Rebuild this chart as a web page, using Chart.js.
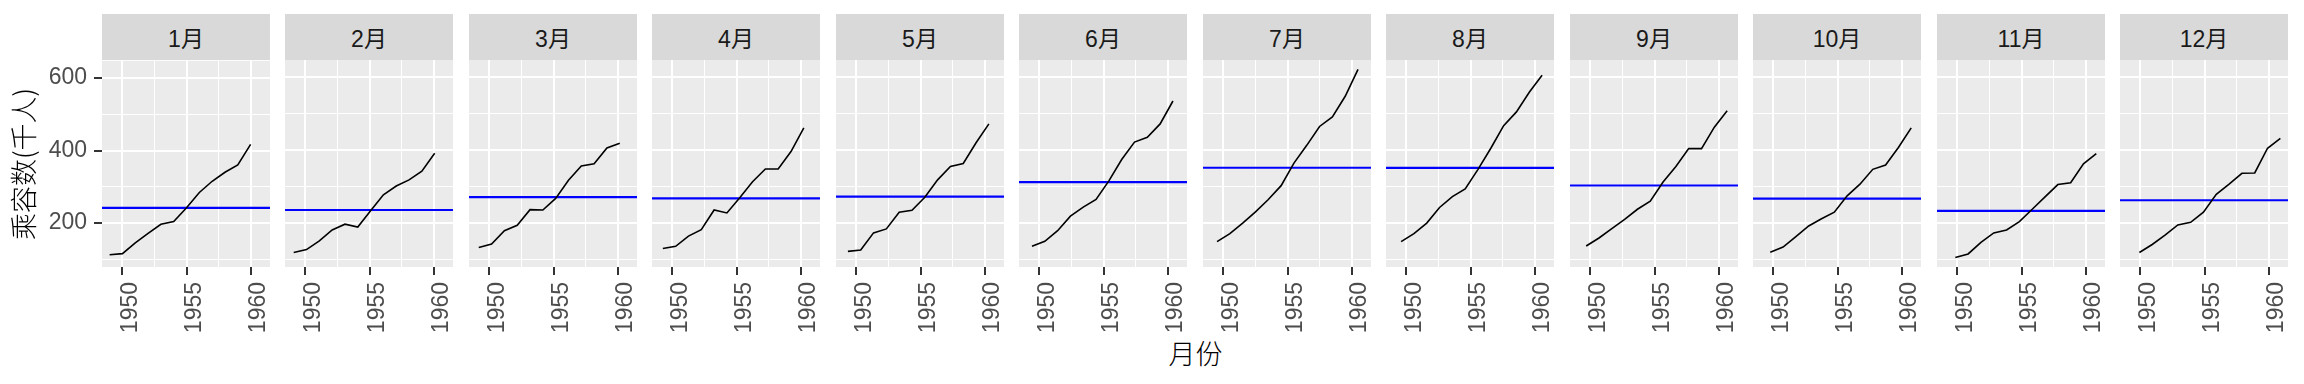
<!DOCTYPE html>
<html>
<head>
<meta charset="utf-8">
<script src="https://cdn.jsdelivr.net/npm/chart.js@4.4.1/dist/chart.umd.min.js"></script>
<style>
  html, body { margin: 0; padding: 0; background: #fff; }
  #wrap { position: relative; width: 2304px; height: 384px; overflow: hidden; background: #fff; }
  .strip { position: absolute; top: 14px; height: 46px; background: #D9D9D9; color: #1A1A1A;
           font: 23px "Liberation Sans", "Noto Sans CJK SC", sans-serif; text-align: center; line-height: 50px; }
  canvas { position: absolute; }
  #xtitle { position: absolute; top: 336px; left: 0; width: 2391px; text-align: center;
            font: 300 27px "Noto Sans CJK SC", sans-serif; color: #000; line-height: 34px; }
</style>
</head>
<body>
<div id="wrap"><div id="xtitle">月份</div></div>
<script>
// ---- data (AirPassengers, thousands) ----
const MONTH_LABELS = ['1月','2月','3月','4月','5月','6月','7月','8月','9月','10月','11月','12月'];
const YEARS = [1949,1950,1951,1952,1953,1954,1955,1956,1957,1958,1959,1960];
const JAN = [112,115,145,171,196,204,242,284,315,340,360,417];
const FEB = [118,126,150,180,196,188,233,277,301,318,342,391];
const MAR = [132,141,178,193,236,235,267,317,356,362,406,419];
const APR = [129,135,163,181,235,227,269,313,348,348,396,461];
const MAY = [121,125,172,183,229,234,270,318,355,363,420,472];
const JUN = [135,149,178,218,243,264,315,374,422,435,472,535];
const JUL = [148,170,199,230,264,302,364,413,465,491,548,622];
const AUG = [148,170,199,242,272,293,347,405,467,505,559,606];
const SEP = [136,158,184,209,237,259,312,355,404,404,463,508];
const OCT = [119,133,162,191,211,229,274,306,347,359,407,461];
const NOV = [104,114,146,172,180,203,237,271,305,310,362,390];
const DEC = [118,140,166,194,201,229,278,306,336,337,405,432];
const SERIES = [JAN,FEB,MAR,APR,MAY,JUN,JUL,AUG,SEP,OCT,NOV,DEC];
const MONTH_MEANS = [241.75,235.00,270.17,267.08,271.83,311.67,351.33,351.08,302.42,266.58,232.83,261.83];
const X_TICKS = [1950,1952.5,1955,1957.5,1960];
const X_LABELS = ['1950','','1955','','1960'];
const Y_TICKS = [100,200,300,400,500,600];
const Y_LABELS = ['','200','','400','','600'];
const X_MIN = 1948.404, X_MAX = 1961.513;
const Y_MIN = 78.1, Y_MAX = 647.9;

// ---- layout ----
const PANEL_LEFT0 = 102, PANEL_STEP = 183.45, PANEL_W = 168;
const CANVAS_TOP = 40, PAD_TOP = 20, AREA_H = 207, CANVAS_H = 344;
const PAD_RIGHT = 20;
const YAXIS_W = 102;

const bgPlugin = {
  id: 'panelBg',
  beforeDraw(chart) {
    const {ctx, chartArea: a} = chart;
    ctx.save();
    ctx.fillStyle = '#EBEBEB';
    ctx.fillRect(a.left, a.top, a.right - a.left, a.bottom - a.top);
    ctx.restore();
  }
};

const wrap = document.getElementById('wrap');
const TICK_FONT = {family: '"Liberation Sans", "Noto Sans CJK SC", sans-serif', size: 23};

SERIES.forEach((vals, i) => {
  const left = Math.round(PANEL_LEFT0 + i * PANEL_STEP);
  const first = i === 0;

  const strip = document.createElement('div');
  strip.className = 'strip';
  strip.style.left = left + 'px';
  strip.style.width = PANEL_W + 'px';
  strip.textContent = MONTH_LABELS[i];
  wrap.appendChild(strip);

  const cv = document.createElement('canvas');
  const cw = PANEL_W + PAD_RIGHT + (first ? YAXIS_W : 0);
  cv.width = cw; cv.height = CANVAS_H;
  cv.style.left = (first ? left - YAXIS_W : left) + 'px';
  cv.style.top = CANVAS_TOP + 'px';
  cv.style.width = cw + 'px'; cv.style.height = CANVAS_H + 'px';
  wrap.appendChild(cv);

  const lineData = YEARS.map((y, k) => ({x: y + i / 12, y: vals[k]}));
  const meanData = [{x: X_MIN, y: MONTH_MEANS[i]}, {x: X_MAX, y: MONTH_MEANS[i]}];

  new Chart(cv, {
    type: 'line',
    data: {
      datasets: [
        {data: lineData, borderColor: '#000000', borderWidth: 1.6, pointRadius: 0, tension: 0, fill: false},
        {data: meanData, borderColor: '#0000FF', borderWidth: 2.2, pointRadius: 0, tension: 0, fill: false}
      ]
    },
    plugins: [bgPlugin],
    options: {
      responsive: false,
      animation: false,
      devicePixelRatio: 1,
      layout: {padding: {top: PAD_TOP, left: 0, right: PAD_RIGHT, bottom: 0}},
      plugins: {legend: {display: false}, tooltip: {enabled: false}, title: {display: false}},
      scales: {
        x: {
          type: 'linear', min: X_MIN, max: X_MAX,
          afterBuildTicks: s => { s.ticks = X_TICKS.map(v => ({value: v})); },
          afterFit: s => { s.height = CANVAS_H - PAD_TOP - AREA_H; },
          border: {display: false},
          grid: {
            color: '#FFFFFF',
            lineWidth: c => (c.tick && c.tick.value % 5 === 0) ? 2 : 1,
            tickColor: c => (c.tick && c.tick.value % 5 === 0) ? '#333333' : 'rgba(0,0,0,0)',
            tickWidth: 2, tickLength: 8, drawTicks: true
          },
          ticks: {
            autoSkip: false, minRotation: 90, maxRotation: 90, padding: 7, labelOffset: 8,
            color: '#4D4D4D', font: TICK_FONT,
            callback: (v, idx) => X_LABELS[X_TICKS.indexOf(v)] ?? ''
          }
        },
        y: {
          type: 'linear', min: Y_MIN, max: Y_MAX,
          afterBuildTicks: s => { s.ticks = Y_TICKS.map(v => ({value: v})); },
          afterFit: s => { s.width = first ? YAXIS_W : 0; },
          border: {display: false},
          grid: {
            color: '#FFFFFF',
            lineWidth: c => (c.tick && c.tick.value % 200 === 0) ? 2 : 1,
            tickColor: c => (c.tick && c.tick.value % 200 === 0) ? '#333333' : 'rgba(0,0,0,0)',
            tickWidth: 2, tickLength: 8, drawTicks: first
          },
          ticks: {
            display: first, padding: 7, color: '#4D4D4D', font: TICK_FONT,
            callback: v => Y_LABELS[Y_TICKS.indexOf(v)] ?? ''
          },
          title: {
            display: first, text: '乘容数(千人)', color: '#000000',
            font: {family: '"Noto Sans CJK SC", sans-serif', size: 27, weight: 300},
            padding: {top: 8, bottom: 0}
          }
        }
      }
    }
  });
});
</script>
</body>
</html>
